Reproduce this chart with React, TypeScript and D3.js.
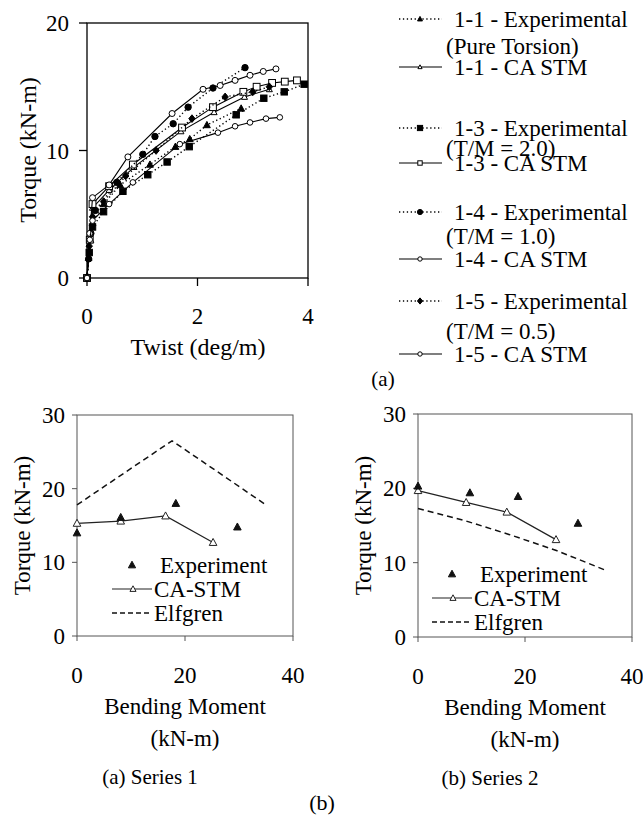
import React from 'react';
import * as d3 from 'd3';

// ---------- Data: top chart (Torque vs Twist) ----------
const twistTicks = [0, 2, 4];
const torqueTicksTop = [0, 10, 20];

const s11Exp: [number, number][] = [[0, 0], [0.03, 1.6], [0.06, 3.0], [0.1, 4.3], [0.3, 5.8], [0.6, 7.3], [1.14, 8.9], [1.6, 10.3], [1.86, 10.9], [2.17, 12.0], [2.79, 13.3]];
const s11Stm: [number, number][] = [[0, 0], [0.05, 3.0], [0.1, 5.5], [0.4, 6.9], [0.85, 8.7], [1.7, 11.5], [2.3, 13.0], [2.85, 14.2], [3.3, 14.8]];
const s13Exp: [number, number][] = [[0, 0], [0.04, 2.0], [0.1, 4.0], [0.3, 5.2], [0.65, 6.8], [1.1, 8.1], [1.45, 9.1], [1.85, 10.3], [2.7, 12.8], [3.2, 14.1], [3.57, 14.6], [3.93, 15.2]];
const s13Stm: [number, number][] = [[0, 0], [0.05, 3.0], [0.1, 5.8], [0.4, 7.2], [0.83, 8.9], [1.72, 11.8], [2.28, 13.4], [2.83, 14.6], [3.07, 15.0], [3.35, 15.3], [3.58, 15.4], [3.8, 15.5]];
const s14Exp: [number, number][] = [[0, 0], [0.03, 1.5], [0.07, 3.5], [0.15, 5.3], [0.54, 7.5], [1.01, 9.7], [1.23, 11.1], [1.56, 12.1], [1.83, 13.4], [2.28, 14.9], [2.86, 16.5]];
const s14Stm: [number, number][] = [[0, 0], [0.05, 3.5], [0.1, 6.3], [0.4, 7.3], [0.74, 9.5], [1.54, 12.9], [2.1, 14.8], [2.41, 15.1], [2.68, 15.5], [2.95, 15.9], [3.19, 16.2], [3.42, 16.4]];
const s15Exp: [number, number][] = [[0, 0], [0.04, 2.5], [0.1, 4.8], [0.3, 6.0], [0.7, 8.0], [1.25, 10.0], [1.9, 12.5], [2.5, 14.2], [3.0, 14.6], [3.3, 15.0]];
const s15Stm: [number, number][] = [[0, 0], [0.05, 3.0], [0.1, 4.5], [0.4, 5.8], [0.83, 7.5], [1.68, 10.5], [2.37, 11.4], [2.68, 11.9], [2.95, 12.2], [3.24, 12.5], [3.49, 12.6]];

const legendMain = ['1-1 - Experimental', '1-1 - CA STM', '1-3 - Experimental', '1-3 - CA STM', '1-4 - Experimental', '1-4 - CA STM', '1-5 - Experimental', '1-5 - CA STM'];
const legendSub = ['(Pure Torsion)', '(T/M = 2.0)', '(T/M = 1.0)', '(T/M = 0.5)'];

// ---------- Data: bottom charts (Torque vs Bending Moment) ----------
const bmTicks = [0, 20, 40];
const torqueTicksBottom = [0, 10, 20, 30];

const ser1Exp: [number, number][] = [[0, 14.0], [8.1, 16.1], [18.3, 18.0], [29.7, 14.8]];
const ser1Stm: [number, number][] = [[0, 15.3], [8.1, 15.6], [16.4, 16.3], [25.2, 12.7]];
const ser1Elf: [number, number][] = [[0, 17.8], [17.6, 26.5], [35, 17.8]];
const ser2Exp: [number, number][] = [[0, 20.3], [9.7, 19.4], [18.7, 18.9], [29.9, 15.3]];
const ser2Stm: [number, number][] = [[0, 19.7], [9.0, 18.1], [16.6, 16.8], [25.8, 13.1]];
const ser2Elf: [number, number][] = [[0, 17.3], [9, 15.6], [17, 13.8], [26, 11.6], [35, 9.0]];

const bottomLegend = ['Experiment', 'CA-STM', 'Elfgren'];

type Shape = 'tri' | 'sq' | 'circ' | 'diam';

function Marker({ x, y, shape, filled, r, stroke = '#000' }: { x: number; y: number; shape: Shape; filled: boolean; r: number; stroke?: string }) {
  const fill = filled ? stroke : '#fff';
  const sw = 1;
  if (shape === 'tri') {
    const p = `${x},${y - r} ${x + r * 0.95},${y + r * 0.75} ${x - r * 0.95},${y + r * 0.75}`;
    return <polygon points={p} fill={fill} stroke={stroke} strokeWidth={sw} />;
  }
  if (shape === 'sq') {
    return <rect x={x - r} y={y - r} width={2 * r} height={2 * r} fill={fill} stroke={stroke} strokeWidth={sw} />;
  }
  if (shape === 'diam') {
    const p = `${x},${y - r * 1.2} ${x + r},${y} ${x},${y + r * 1.2} ${x - r},${y}`;
    return <polygon points={p} fill={fill} stroke={stroke} strokeWidth={sw} />;
  }
  return <circle cx={x} cy={y} r={r} fill={fill} stroke={stroke} strokeWidth={sw} />;
}

const topSeries: { data: [number, number][]; shape: Shape; filled: boolean; dotted: boolean; r: number }[] = [
  { data: s11Exp, shape: 'tri', filled: true, dotted: true, r: 3.6 },
  { data: s11Stm, shape: 'tri', filled: false, dotted: false, r: 3.2 },
  { data: s13Exp, shape: 'sq', filled: true, dotted: true, r: 3.2 },
  { data: s13Stm, shape: 'sq', filled: false, dotted: false, r: 3.4 },
  { data: s14Exp, shape: 'circ', filled: true, dotted: true, r: 3.2 },
  { data: s14Stm, shape: 'circ', filled: false, dotted: false, r: 3.0 },
  { data: s15Exp, shape: 'diam', filled: true, dotted: true, r: 3.2 },
  { data: s15Stm, shape: 'circ', filled: false, dotted: false, r: 2.8 },
];

function TopChart() {
  const x = d3.scaleLinear().domain([0, 4]).range([87, 308]);
  const y = d3.scaleLinear().domain([0, 20]).range([278, 23]);
  const line = d3.line<[number, number]>().x(d => x(d[0])).y(d => y(d[1]));
  const legendRows = [19, 67, 128, 163, 212, 259, 301, 354];
  const subRows = [46, 148, 236, 331];
  return (
    <g>
      <rect x={x(0)} y={y(20)} width={x(4) - x(0)} height={y(0) - y(20)} fill="none" stroke="#000" strokeWidth={1.3} />
      {twistTicks.map(t => (
        <g key={'xt' + t}>
          <line x1={x(t)} x2={x(t)} y1={y(0)} y2={y(0) + 8} stroke="#000" strokeWidth={1.3} />
          <text x={x(t)} y={y(0) + 46} fontSize={23} textAnchor="middle">{t}</text>
        </g>
      ))}
      {torqueTicksTop.map(t => (
        <g key={'yt' + t}>
          <line x1={x(0) - 8} x2={x(0)} y1={y(t)} y2={y(t)} stroke="#000" strokeWidth={1.3} />
          <text x={x(0) - 18} y={y(t)} dy="0.35em" fontSize={23} textAnchor="end">{t}</text>
        </g>
      ))}
      <text x={198} y={355} fontSize={24} textAnchor="middle">Twist (deg/m)</text>
      <text transform={`translate(36,150) rotate(-90)`} fontSize={24} textAnchor="middle">Torque (kN-m)</text>
      {topSeries.map((s, i) => (
        <g key={'s' + i}>
          <path d={line(s.data) || ''} fill="none" stroke="#000" strokeWidth={s.dotted ? 1.4 : 1.1} strokeDasharray={s.dotted ? '1.3,2.6' : undefined} />
          {s.data.map((d, j) => (
            <Marker key={j} x={x(d[0])} y={y(d[1])} shape={s.shape} filled={s.filled} r={s.r} />
          ))}
        </g>
      ))}
      {legendMain.map((lab, i) => {
        const s = topSeries[i];
        const yy = legendRows[i];
        return (
          <g key={'lg' + i}>
            <line x1={399} x2={442} y1={yy} y2={yy} stroke="#000" strokeWidth={s.dotted ? 1.4 : 1.1} strokeDasharray={s.dotted ? '1.3,2.6' : undefined} />
            <Marker x={420} y={yy} shape={s.shape} filled={s.filled} r={s.dotted ? 2.6 : 2.2} />
            <text x={454} y={yy} dy="0.35em" fontSize={23}>{lab}</text>
          </g>
        );
      })}
      {legendSub.map((lab, i) => (
        <text key={'sub' + i} x={446} y={subRows[i]} dy="0.35em" fontSize={23}>{lab}</text>
      ))}
      <text x={383} y={386} fontSize={21} textAnchor="middle">(a)</text>
    </g>
  );
}

function BottomChart({ left, right, top, bottom, exp, stm, elf, legendX, legendY, yLabelX, caption }: {
  left: number; right: number; top: number; bottom: number;
  exp: [number, number][]; stm: [number, number][]; elf: [number, number][];
  legendX: number; legendY: number; yLabelX: number; caption: string;
}) {
  const x = d3.scaleLinear().domain([0, 40]).range([left, right]);
  const y = d3.scaleLinear().domain([0, 30]).range([bottom, top]);
  const line = d3.line<[number, number]>().x(d => x(d[0])).y(d => y(d[1]));
  const axisColor = '#555';
  const cx = (left + right) / 2;
  return (
    <g>
      <rect x={left} y={top} width={right - left} height={bottom - top} fill="none" stroke={axisColor} strokeWidth={1} />
      {bmTicks.map(t => (
        <g key={'xt' + t}>
          <line x1={x(t)} x2={x(t)} y1={y(0)} y2={y(0) + 5} stroke={axisColor} strokeWidth={1} />
          <text x={x(t)} y={y(0) + 47} fontSize={23} textAnchor="middle">{t}</text>
        </g>
      ))}
      {torqueTicksBottom.map(t => (
        <g key={'yt' + t}>
          <line x1={x(0) - 5} x2={x(0)} y1={y(t)} y2={y(t)} stroke={axisColor} strokeWidth={1} />
          <text x={x(0) - 12} y={y(t)} dy="0.35em" fontSize={23} textAnchor="end">{t}</text>
        </g>
      ))}
      <path d={line(elf) || ''} fill="none" stroke="#111" strokeWidth={1.5} strokeDasharray="6,4" />
      <path d={line(stm) || ''} fill="none" stroke="#222" strokeWidth={1.2} />
      {stm.map((d, j) => <Marker key={'st' + j} x={x(d[0])} y={y(d[1])} shape="tri" filled={false} r={4} stroke="#222" />)}
      {exp.map((d, j) => <Marker key={'ex' + j} x={x(d[0])} y={y(d[1])} shape="tri" filled={true} r={4} stroke="#111" />)}
      {/* legend */}
      <Marker x={legendX + 20} y={legendY} shape="tri" filled={true} r={3.8} stroke="#111" />
      <text x={legendX + 48} y={legendY} dy="0.35em" fontSize={23}>{bottomLegend[0]}</text>
      <line x1={legendX} x2={legendX + 40} y1={legendY + 24} y2={legendY + 24} stroke="#222" strokeWidth={1.2} />
      <Marker x={legendX + 21} y={legendY + 24} shape="tri" filled={false} r={3.2} stroke="#222" />
      <text x={legendX + 42} y={legendY + 24} dy="0.35em" fontSize={23}>{bottomLegend[1]}</text>
      <line x1={legendX} x2={legendX + 38} y1={legendY + 48} y2={legendY + 48} stroke="#111" strokeWidth={1.4} strokeDasharray="5,3" />
      <text x={legendX + 42} y={legendY + 48} dy="0.35em" fontSize={23}>{bottomLegend[2]}</text>
      <text x={cx} y={bottom + 78} fontSize={23} textAnchor="middle">Bending Moment</text>
      <text x={cx} y={bottom + 110} fontSize={23} textAnchor="middle">(kN-m)</text>
      <text transform={`translate(${yLabelX},${(top + bottom) / 2}) rotate(-90)`} fontSize={23} textAnchor="middle">Torque (kN-m)</text>
      <text x={cx - 35} y={bottom + 148} fontSize={21} textAnchor="middle">{caption}</text>
    </g>
  );
}

export default function App() {
  return (
    <svg width={643} height={821} style={{ position: 'absolute', left: 0, top: 0, background: '#fff', fontFamily: 'Liberation Serif' }} fontFamily="Liberation Serif">
      <rect width={643} height={821} fill="#fff" />
      <TopChart />
      <BottomChart left={77} right={293} top={415} bottom={636} exp={ser1Exp} stm={ser1Stm} elf={ser1Elf}
        legendX={112} legendY={565} yLabelX={30} caption="(a) Series 1" />
      <BottomChart left={418} right={632} top={414} bottom={637} exp={ser2Exp} stm={ser2Stm} elf={ser2Elf}
        legendX={432} legendY={574} yLabelX={371} caption="(b) Series 2" />
      <text x={322} y={810} fontSize={22} textAnchor="middle">(b)</text>
    </svg>
  );
}
